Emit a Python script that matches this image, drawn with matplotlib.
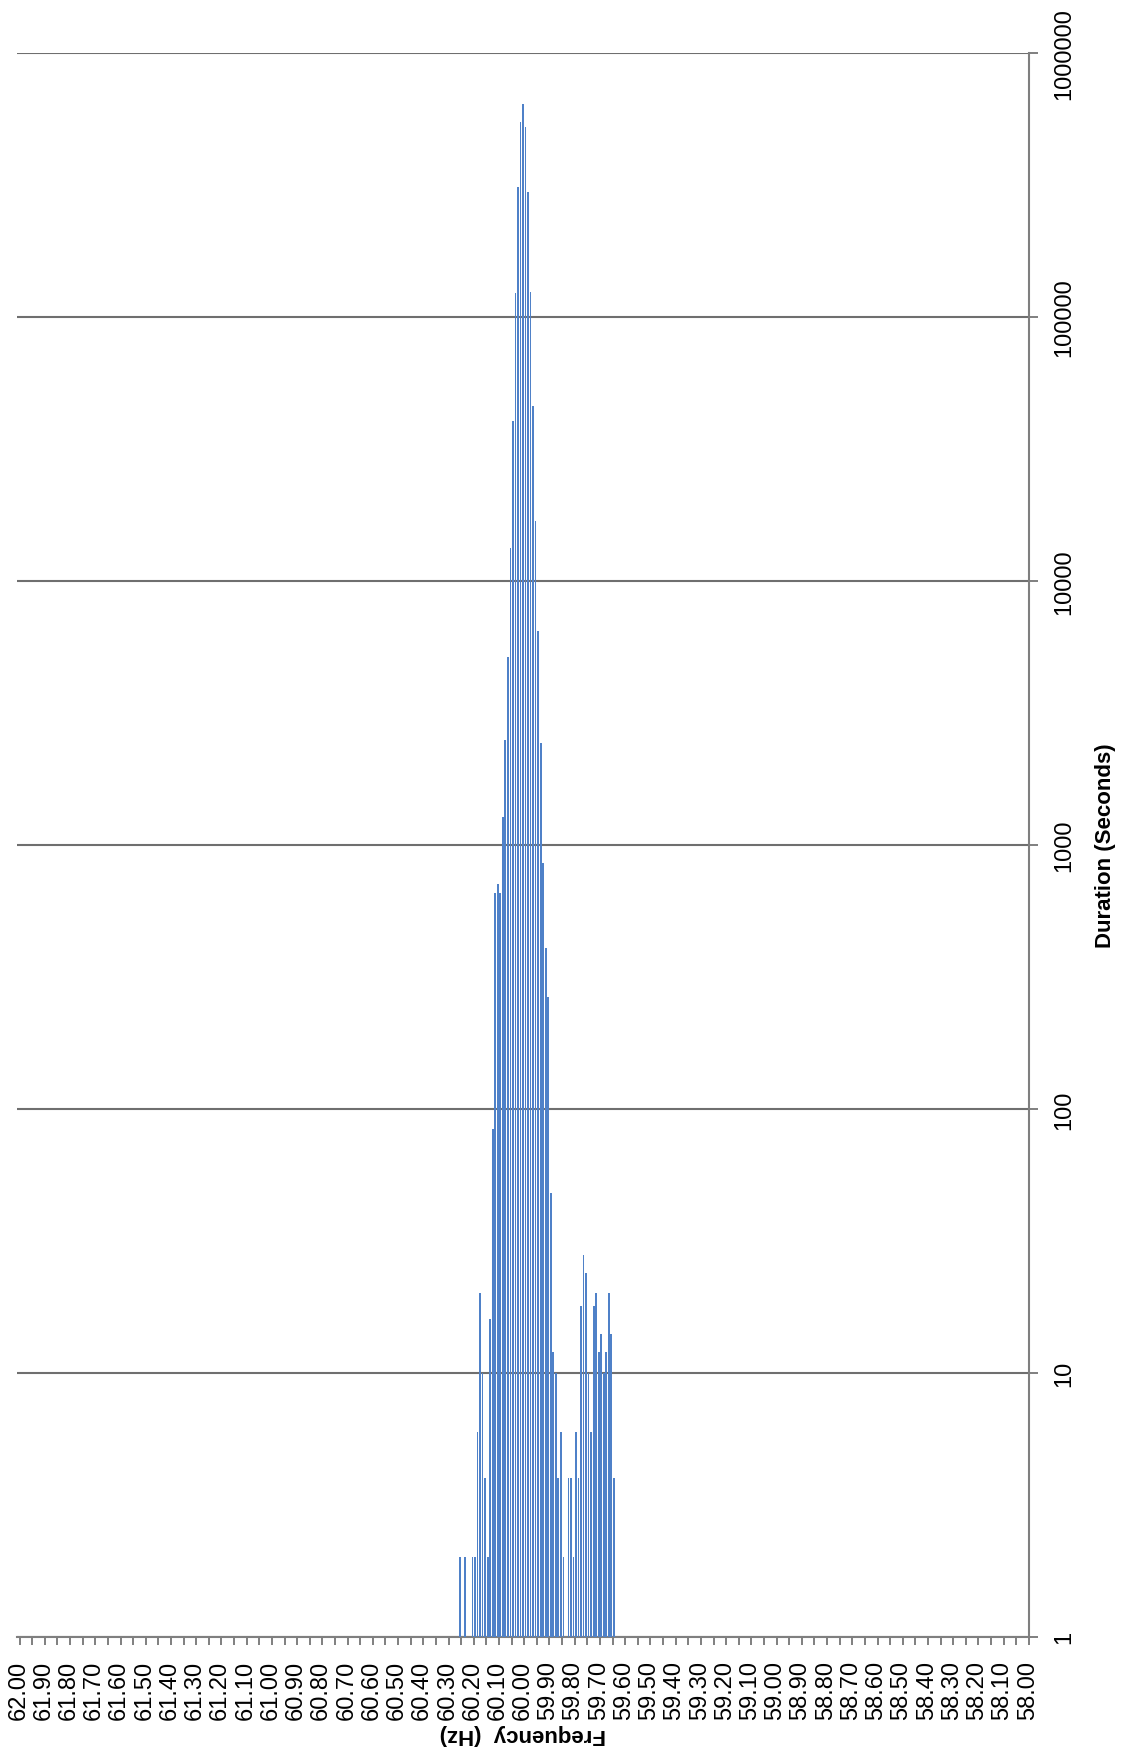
import matplotlib
matplotlib.use('Agg')
import matplotlib.pyplot as plt
import numpy as np
from matplotlib.ticker import FixedLocator, FixedFormatter, NullLocator

plt.rcParams['font.family'] = ['Liberation Sans', 'DejaVu Sans']

# 频率 (Hz) 与持续时间 (秒)
freq = [60.25, 60.23, 60.20, 60.19, 60.18, 60.17, 60.16, 60.15, 60.14, 60.13,
        60.12, 60.11, 60.10, 60.09, 60.08, 60.07, 60.06, 60.05, 60.04, 60.03,
        60.02, 60.01, 60.00, 59.99, 59.98, 59.97, 59.96, 59.95, 59.94, 59.93,
        59.92, 59.91, 59.90, 59.89, 59.88, 59.87, 59.86, 59.85, 59.84, 59.82,
        59.81, 59.80, 59.79, 59.78, 59.77, 59.76, 59.75, 59.74, 59.73, 59.72,
        59.71, 59.70, 59.69, 59.68, 59.67, 59.66, 59.65, 59.64]
duration = [2, 2, 2, 2, 6, 20, 10, 4, 2, 16,
            84, 658, 711, 658, 1273, 2500, 5140, 13300, 40500, 123000,
            310000, 546000, 641000, 523000, 297000, 124000, 45900, 16900, 6450, 2430,
            855, 406, 266, 48, 12, 10, 4, 6, 2, 4,
            4, 2, 6, 4, 18, 28, 24, 10, 6, 18,
            20, 12, 14, 10, 12, 20, 14, 4]

freq_ticks = [62.0, 61.9, 61.8, 61.7, 61.6, 61.5, 61.4, 61.3, 61.2, 61.1, 61.0,
              60.9, 60.8, 60.7, 60.6, 60.5, 60.4, 60.3, 60.2, 60.1, 60.0,
              59.9, 59.8, 59.7, 59.6, 59.5, 59.4, 59.3, 59.2, 59.1, 59.0,
              58.9, 58.8, 58.7, 58.6, 58.5, 58.4, 58.3, 58.2, 58.1, 58.0]
freq_labels = ['62.00', '61.90', '61.80', '61.70', '61.60', '61.50', '61.40', '61.30',
               '61.20', '61.10', '61.00', '60.90', '60.80', '60.70', '60.60', '60.50',
               '60.40', '60.30', '60.20', '60.10', '60.00', '59.90', '59.80', '59.70',
               '59.60', '59.50', '59.40', '59.30', '59.20', '59.10', '59.00', '58.90',
               '58.80', '58.70', '58.60', '58.50', '58.40', '58.30', '58.20', '58.10',
               '58.00']
dur_ticks = [1, 10, 100, 1000, 10000, 100000, 1000000]
dur_labels = ['1', '10', '100', '1000', '10000', '100000', '1000000']

axis_grey = '#7f7f7f'

fig = plt.figure(figsize=(11.21, 17.58), dpi=100)
ax = fig.add_axes([0.0152, 0.0683, 0.9027, 0.9010])

ax.bar(freq, duration, width=0.0068, color='#4F81C8', linewidth=0, zorder=3)

ax.set_yscale('log')
ax.set_ylim(1, 1e6)
ax.set_xlim(62.005, 57.995)

# 纵轴（右侧，对数刻度）
ax.yaxis.set_major_locator(FixedLocator(dur_ticks))
ax.yaxis.set_major_formatter(FixedFormatter(dur_labels))
ax.yaxis.set_minor_locator(NullLocator())
ax.yaxis.tick_right()
ax.yaxis.set_label_position('right')
ax.tick_params(axis='y', which='major', direction='out', length=6.5, width=1.4,
               color=axis_grey, pad=11, labelsize=17, labelrotation=90)
for lab in ax.get_yticklabels():
    lab.set_va('center')
ax.grid(axis='y', which='major', color='#6f6f6f', linewidth=1.5, zorder=0)
ax.set_axisbelow(True)

# 横轴（频率，分类间刻度线）
ax.xaxis.set_major_locator(FixedLocator(freq_ticks))
ax.xaxis.set_major_formatter(FixedFormatter(freq_labels))
ax.xaxis.set_minor_locator(FixedLocator(np.arange(57.995, 62.0, 0.05)))
ax.tick_params(axis='x', which='major', length=0, pad=16.5, labelsize=17, labelrotation=90)
ax.tick_params(axis='x', which='minor', direction='out', length=6, width=1.4, color=axis_grey)

ax.set_xlabel('Frequency  (Hz)', rotation=180, fontsize=16, fontweight='bold', labelpad=3)
ax.set_ylabel('Duration (Seconds)', rotation=90, fontsize=16, fontweight='bold', labelpad=14)

for side in ['left', 'top']:
    ax.spines[side].set_visible(False)
for side in ['bottom', 'right']:
    ax.spines[side].set_color(axis_grey)
    ax.spines[side].set_linewidth(1.5)

fig.savefig('out.png', dpi=100)
